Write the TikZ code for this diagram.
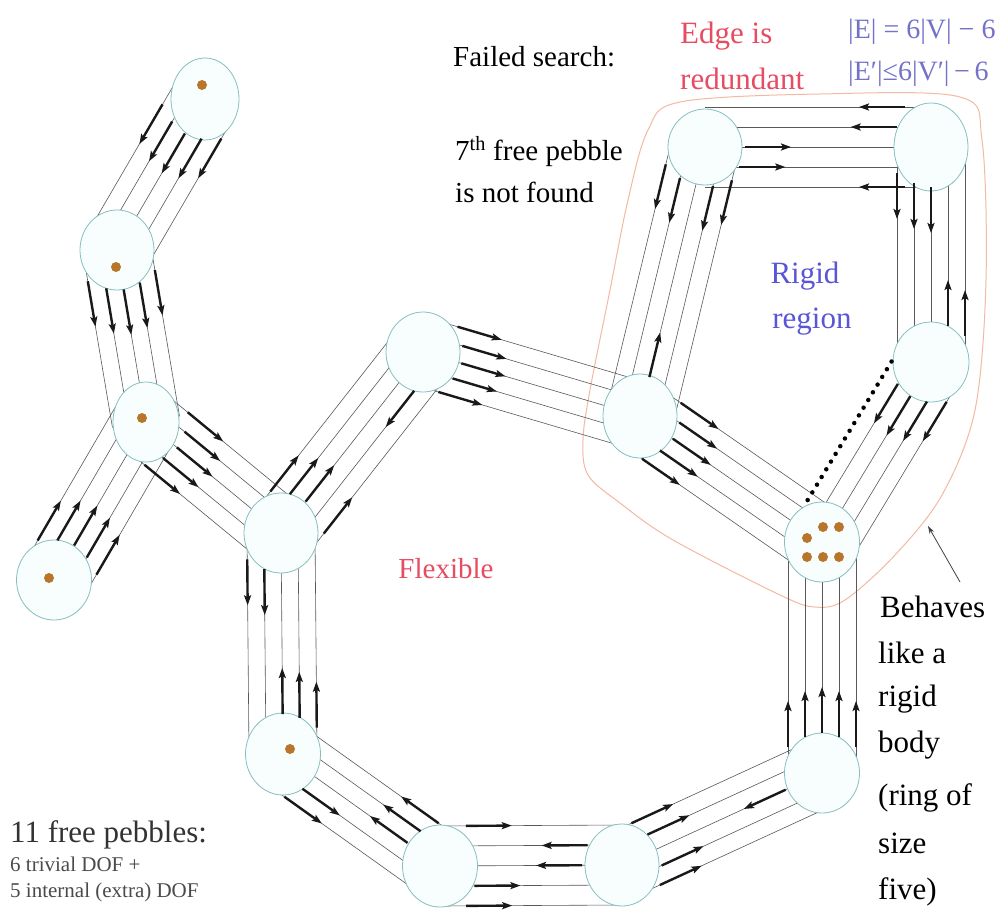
\documentclass[tikz,border=0pt]{standalone}
\usepackage{fontspec}
\setmainfont{Liberation Serif}
\usetikzlibrary{calc,shapes.geometric,arrows.meta}
\pgfdeclarelayer{background}
\pgfsetlayers{background,main}
\definecolor{nodefill}{HTML}{F8FEFE}
\definecolor{nodeedge}{HTML}{86BFC0}
\definecolor{pebblec}{HTML}{B8762A}
\definecolor{rigidc}{HTML}{F3B9A2}
\definecolor{redtxt}{HTML}{E64C62}
\definecolor{bluetxt}{HTML}{5A55D6}
\definecolor{formtxt}{HTML}{7472C8}
\definecolor{greytxt}{HTML}{4A4A4A}
\def\lsp{17}
\def\rr{38}
\def\minst{24}
\def\alen{46}
\newcommand\lane[3]{%
  \pgfmathsetmacro\laneoff{(#3)*\lsp}%
  \draw[laneline] ($(#1)!\laneoff pt!90:(#2)$) -- ($(#2)!\laneoff pt!-90:(#1)$);}
\newcommand\bundle[2]{\begin{pgfonlayer}{background}\foreach \k in {-2,...,2}{\lane{#1}{#2}{\k}}\end{pgfonlayer}}
\newcommand\fwd[3]{%
  \pgfmathsetmacro\laneoff{(#3)*\lsp}%
  \pgfmathsetmacro\arst{max(sqrt(max(\rr*\rr-\laneoff*\laneoff,0)),\minst)+2}%
  \pgfmathsetmacro\aren{\arst+\alen}%
  \draw[pebarrow] ($(#1)!\arst pt!(#2)!\laneoff pt!90:(#2)$) -- ($(#1)!\aren pt!(#2)!\laneoff pt!90:(#2)$);}
\newcommand\bwd[3]{%
  \pgfmathsetmacro\laneoff{(#3)*\lsp}%
  \pgfmathsetmacro\arst{max(sqrt(max(\rr*\rr-\laneoff*\laneoff,0)),\minst)+2}%
  \pgfmathsetmacro\aren{\arst+\alen}%
  \draw[pebarrow] ($(#2)!\arst pt!(#1)!\laneoff pt!-90:(#1)$) -- ($(#2)!\aren pt!(#1)!\laneoff pt!-90:(#1)$);}
\newcommand\fwds[3]{\foreach \k in {#3}{\fwd{#1}{#2}{\k}}}
\newcommand\bwds[3]{\foreach \k in {#3}{\bwd{#1}{#2}{\k}}}
\begin{document}
\begin{tikzpicture}[x=1pt,y=-1pt,
  peer/.style={ellipse, draw=nodeedge, fill=nodefill, line width=0.8pt, minimum width=74pt, minimum height=80pt, inner sep=0pt},
  laneline/.style={line width=0.6pt, draw=black!65},
  pebarrow/.style={line width=2.4pt, draw=black!90, -{Stealth[length=10pt,width=7pt,inset=2pt]}},
  redund/.style={line width=4.5pt, dash pattern=on 0pt off 9pt, line cap=round, draw=black},
  rigidline/.style={draw=rigidc, line width=1pt},
  pebble/.style={fill=pebblec},
  txt/.style={inner sep=0pt, font=\fontsize{29}{42}\selectfont},
  bigtxt/.style={inner sep=0pt, font=\fontsize{31}{47}\selectfont},
  smalltxt/.style={inner sep=0pt, text=greytxt, font=\fontsize{21}{26}\selectfont},
  formula/.style={inner sep=0pt, text=formtxt, font=\fontsize{28}{43}\selectfont},
]
\useasboundingbox (0,0) rectangle (1002,913);

% background and rigid region outline
\begin{pgfonlayer}{background}
\fill[white] (0,0) rectangle (1002,913);
\draw[rigidline] plot[smooth cycle, tension=0.55] coordinates {
 (680,102) (820,94) (960,97) (982,140) (986,280) (975,410) (942,495)
 (895,555) (845,600) (815,607) (780,595) (673,540) (620,503) (588,475)
 (583,440) (590,390) (610,290) (628,200) (648,130)};
\end{pgfonlayer}

% nodes
\node[peer, minimum width=68pt, minimum height=82pt] (A) at (205,99) {};
\node[peer] (B) at (117,250) {};
\node[peer, minimum width=66pt] (C) at (146,422) {};
\node[peer, minimum width=75pt] (D) at (54,580) {};
\node[peer] (E) at (281,533) {};
\node[peer] (F) at (423,352) {};
\node[peer, minimum height=84pt] (G) at (640,416) {};
\node[peer, minimum height=76pt] (H) at (705,147) {};
\node[peer, minimum height=88pt] (I) at (931,147) {};
\node[peer, minimum width=76pt] (J) at (931,362) {};
\node[peer, minimum width=75pt] (K) at (822,542) {};
\node[peer, minimum width=75pt] (L) at (822,773) {};
\node[peer, minimum height=82pt] (M) at (622,865) {};
\node[peer, minimum width=75pt, minimum height=82pt] (N) at (440,866) {};
\node[peer, minimum width=75pt, minimum height=82pt] (O) at (283,754) {};

% pebbles
\fill[pebble] (202,85) circle (5pt);
\fill[pebble] (116,267) circle (5pt);
\fill[pebble] (142,418) circle (5pt);
\fill[pebble] (49,578) circle (5pt);
\fill[pebble] (290,749) circle (5pt);
\foreach \p in {(823,527),(839,527),(807,538),(807,557),(823,557),(839,557)}
  \fill[pebble] \p circle (5pt);

% bundles and pebble arrows
\def\lsp{17}
\bundle{A}{B} \fwds{A}{B}{-2,-1,0,1,2}
\bundle{B}{C} \fwds{B}{C}{-2,-1,0,1,2}
\bundle{D}{C} \fwds{D}{C}{-2,-1,0,1,2}
\bundle{C}{E} \fwds{C}{E}{-2,-1,0,1,2}
\bundle{E}{F} \fwds{E}{F}{2,1,0,-2} \bwds{E}{F}{-1}
\bundle{F}{G} \fwds{F}{G}{-2,-1,0,1,2}
\bundle{H}{G} \fwds{H}{G}{-2,-1,1,2} \bwds{H}{G}{0}
\def\lsp{20}
\bundle{H}{I} \bwds{H}{I}{2,1,-2} \fwds{H}{I}{0,-1}
\def\lsp{17}
\bundle{I}{J} \fwds{I}{J}{-2,-1,0} \bwds{I}{J}{1,2}
\begin{pgfonlayer}{background}\foreach \k in {-1,...,2}{\lane{J}{K}{\k}}\end{pgfonlayer}
\fwds{J}{K}{-1,0,1,2}
\draw[redund] ($(J)!20pt!(K)!-34pt!90:(K)$) -- ($(K)!20pt!(J)!-34pt!-90:(J)$);
\bundle{G}{K} \fwds{G}{K}{-2,-1,0,1,2}
\bundle{L}{K} \fwds{L}{K}{-2,-1,0,1,2}
\bundle{M}{L} \fwds{M}{L}{2,1,-1,-2} \bwds{M}{L}{0}
\def\lsp{20}
\bundle{N}{M} \fwds{N}{M}{2,-1,-2} \bwds{N}{M}{1,0}
\def\lsp{17}
\bundle{O}{N} \fwds{O}{N}{-1,-2} \bwds{O}{N}{2,1,0}
\bundle{E}{O} \fwds{E}{O}{-2,-1} \bwds{E}{O}{0,1,2}

% texts
\node[txt, anchor=base west] (failed) at (453,66) {Failed search:};
\node[txt, anchor=base west] (seventh) at (455,160) {7\textsuperscript{th} free pebble};
\node[txt, anchor=base west] (notfound) at (455,202) {is not found};
\node[bigtxt, text=redtxt, anchor=base west] (edge1) at (680,43) {Edge is};
\node[bigtxt, text=redtxt, anchor=base west] (edge2) at (680,89) {redundant};
\node[formula, anchor=base west] (form1) at (848,38) {|E| = 6|V| − 6};
\node[formula, anchor=base west] (form2) at (848,80) {|E′|≤6|V′|\,−\,6};
\node[bigtxt, text=bluetxt, anchor=base] (rigid1) at (805,283) {Rigid};
\node[bigtxt, text=bluetxt, anchor=base] (rigid2) at (812,328) {region};
\node[txt, text=redtxt, anchor=base] (flex) at (446,578) {Flexible};
\node[bigtxt, anchor=base west] (b1) at (880,617) {Behaves};
\node[bigtxt, anchor=base west] (b2) at (878,663) {like a};
\node[bigtxt, anchor=base west] (b3) at (878,706) {rigid};
\node[bigtxt, anchor=base west] (b4) at (878,752) {body};
\node[bigtxt, anchor=base west] (b5) at (878,805) {(ring of};
\node[bigtxt, anchor=base west] (b6) at (878,853) {size};
\node[bigtxt, anchor=base west] (b7) at (878,899) {five)};
\node[bigtxt, text=black!80, anchor=base west] (free) at (10,842) {11 free pebbles:};
\node[smalltxt, anchor=base west] (triv) at (10,871) {6 trivial DOF +};
\node[smalltxt, anchor=base west] (intl) at (10,897) {5 internal (extra) DOF};

% pointer from text to the rigid region
\coordinate (ptrtail) at (960,582);
\coordinate (ptrhead) at (928,526);
\draw[line width=0.8pt, draw=black!75, -{Stealth[length=8pt,width=5pt]}] (ptrtail) -- (ptrhead);
\end{tikzpicture}
\end{document}
